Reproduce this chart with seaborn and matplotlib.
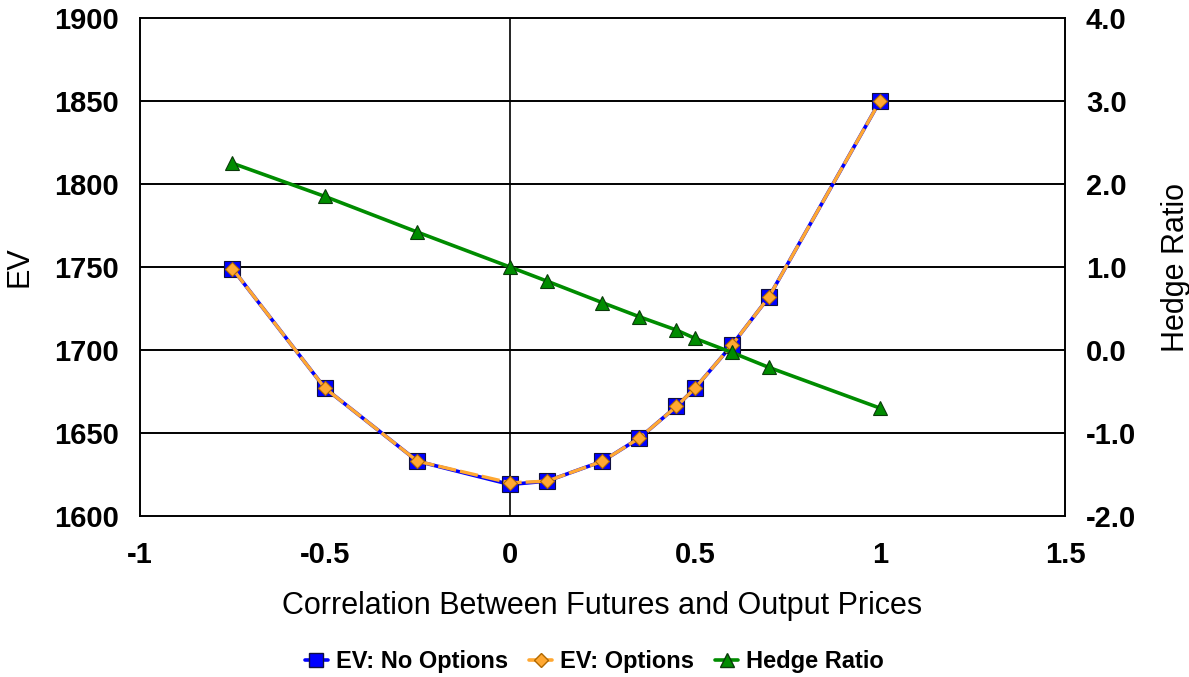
import matplotlib
matplotlib.use("Agg")
import matplotlib.pyplot as plt
import seaborn as sns
import pandas as pd
from matplotlib.lines import Line2D

# Correlation between futures and output prices
correlation = [-0.75, -0.5, -0.25, 0.0, 0.1, 0.25, 0.35, 0.45, 0.5, 0.6, 0.7, 1.0]
# Expected value without / with options
ev_no_options = [1749, 1677, 1633, 1619, 1621, 1633, 1647, 1666, 1677, 1703, 1732, 1850]
ev_options = [1749, 1677, 1633, 1620, 1621, 1633, 1647, 1666, 1677, 1703, 1732, 1850]
# Optimal hedge ratio
hedge_ratio = [2.25, 1.85, 1.42, 1.0, 0.83, 0.57, 0.40, 0.24, 0.14, -0.03, -0.21, -0.70]

x_ticks = [-1, -0.5, 0, 0.5, 1, 1.5]
x_tick_labels = ["-1", "-0.5", "0", "0.5", "1", "1.5"]
ev_ticks = [1600, 1650, 1700, 1750, 1800, 1850, 1900]
hr_ticks = [-2.0, -1.0, 0.0, 1.0, 2.0, 3.0, 4.0]

df = pd.DataFrame({
    "corr": correlation,
    "ev_no": ev_no_options,
    "ev_opt": ev_options,
    "hedge": hedge_ratio,
})

sns.set_style("white")
plt.rcParams["font.family"] = ["Liberation Sans", "DejaVu Sans"]
plt.rcParams["axes.unicode_minus"] = False
for key in ("text.color", "axes.labelcolor", "xtick.color", "ytick.color"):
    plt.rcParams[key] = "black"

fig = plt.figure(figsize=(11.89, 6.77), dpi=100)
ax = fig.add_axes([0.1177, 0.2378, 0.7780, 0.7356])
ax2 = ax.twinx()

blue = "#0000FF"
orange = "#FFA832"
green = "#008C00"

sns.lineplot(data=df, x="corr", y="ev_no", ax=ax, color=blue, lw=2.6,
             marker="s", markersize=11, markerfacecolor=blue,
             markeredgecolor="#101040", markeredgewidth=0.8, zorder=4)
line_opt = sns.lineplot(data=df, x="corr", y="ev_opt", ax=ax, color=orange,
                        lw=2.4, marker="D", markersize=7,
                        markerfacecolor=orange, markeredgecolor="#B06800",
                        markeredgewidth=0.8, zorder=5).lines[-1]
line_opt.set_dashes([5.5, 1.2])

sns.lineplot(data=df, x="corr", y="hedge", ax=ax2, color=green, lw=2.6,
             marker="^", markersize=10, markerfacecolor=green,
             markeredgecolor="#0A3A0A", markeredgewidth=0.8, zorder=4)

ax.set_xlim(-1, 1.5)
ax.set_ylim(1600, 1900)
ax2.set_ylim(-2, 4)

ax.set_xticks(x_ticks)
ax.set_xticklabels(x_tick_labels)
ax.set_yticks(ev_ticks)
ax.set_yticklabels([f"{v:d}" for v in ev_ticks])
ax2.set_yticks(hr_ticks)
ax2.set_yticklabels([f"{v:.1f}" for v in hr_ticks])

for a in (ax, ax2):
    a.tick_params(axis="both", labelsize=21, length=0)
    a.tick_params(axis="y", pad=15)
    a.tick_params(axis="x", pad=18)
    for lab in a.get_xticklabels() + a.get_yticklabels():
        lab.set_fontweight("bold")
    for s in a.spines.values():
        s.set_color("black")
        s.set_linewidth(1.2)

# horizontal grid and zero-correlation line
for v in ev_ticks[1:-1]:
    ax.axhline(v, color="black", lw=1.4, zorder=1)
ax.axvline(0, color="black", lw=1.2, zorder=1)

ax.set_xlabel("Correlation Between Futures and Output Prices", fontsize=22,
              labelpad=16)
ax.set_ylabel("EV", fontsize=22, labelpad=14)
ax2.set_ylabel("Hedge Ratio", fontsize=22, labelpad=18)
ax2.grid(False)
ax.grid(False)

handles = [
    Line2D([], [], color=blue, lw=2.6, marker="s", markersize=10,
           markerfacecolor=blue, markeredgecolor="#101040"),
    Line2D([], [], color=orange, lw=2.6, marker="D", markersize=7,
           markerfacecolor=orange, markeredgecolor="#B06800"),
    Line2D([], [], color=green, lw=2.6, marker="^", markersize=10,
           markerfacecolor=green, markeredgecolor="#0A3A0A"),
]
labels = ["EV: No Options", "EV: Options", "Hedge Ratio"]
fig.legend(handles, labels, loc="center", bbox_to_anchor=(0.5, 0.023),
           ncol=3, frameon=False, handlelength=0.95, handletextpad=0.35,
           columnspacing=0.9, prop={"size": 17, "weight": "bold"})

fig.savefig("out.png", dpi=100)
